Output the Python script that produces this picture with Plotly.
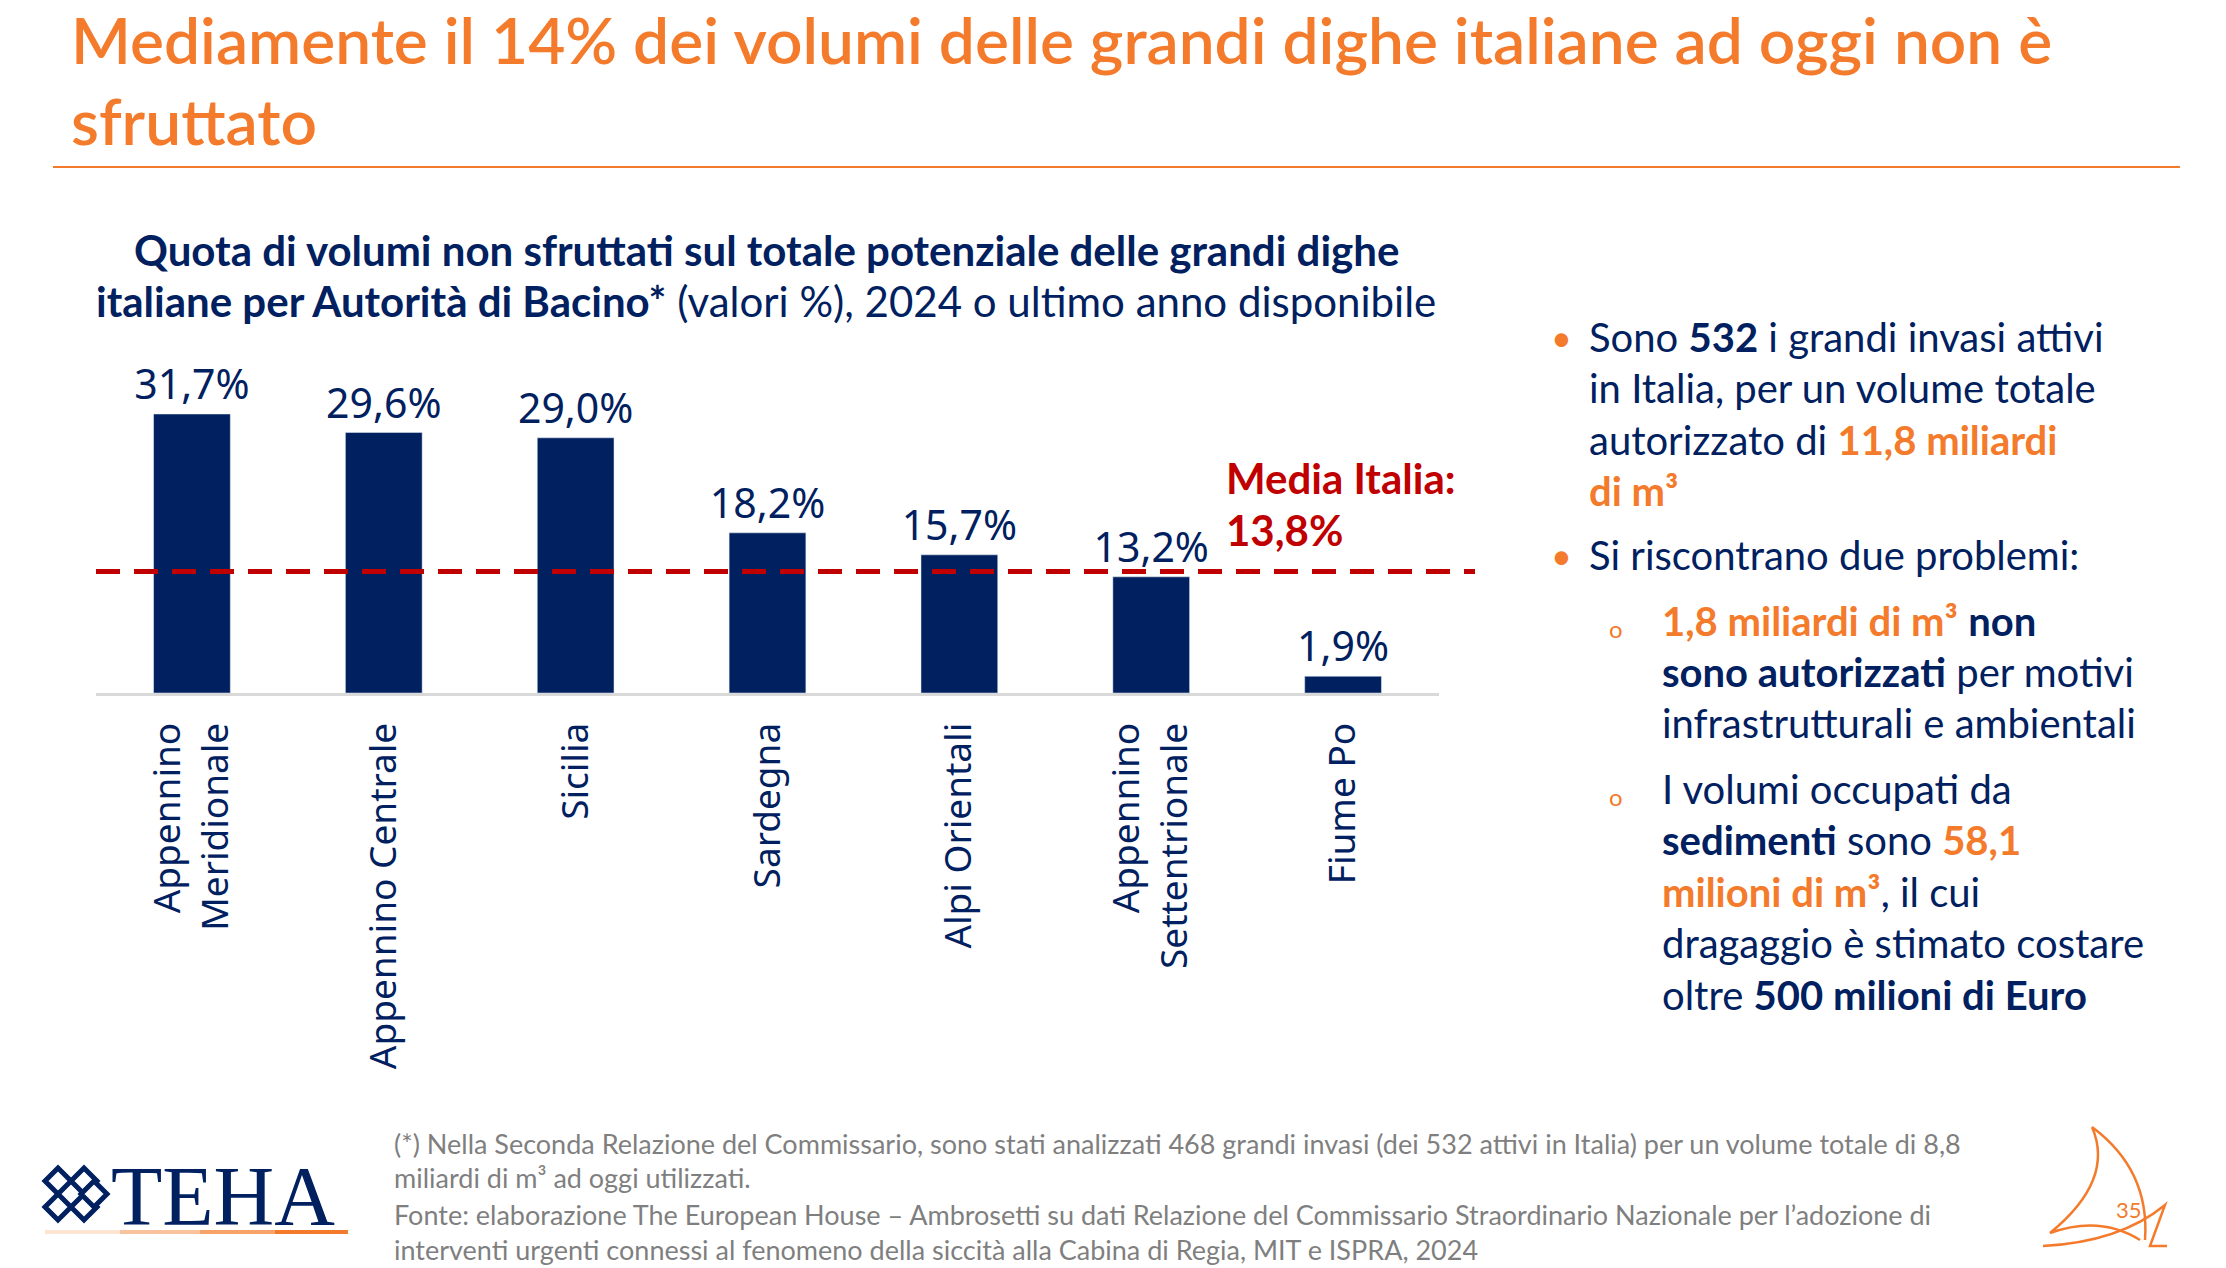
import plotly.graph_objects as go

# data
bacini = ["Appennino<br>Meridionale", "Appennino Centrale", "Sicilia", "Sardegna",
          "Alpi Orientali", "Appennino<br>Settentrionale", "Fiume Po"]
quota_non_sfruttata = [31.7, 29.6, 29.0, 18.2, 15.7, 13.2, 1.9]
media_italia = 13.8

NAVY = "#002060"
ORANGE = "#F37B2B"
RED = "#C00000"
GREY = "#7F7F7F"
FONT = "Lato, 'Open Sans', sans-serif"
NUMFONT = "'Noto Sans', sans-serif"

# page geometry (pixels) of the plot area
W_PAGE, H_PAGE = 2226, 1268
L, R, T, B = 96, 1439, 385, 693


def X(px):
    return (px - L) / (R - L)


def Y(py):
    return (B - py) / (B - T)


def path_px(s):
    out = []
    for tok in s.split():
        if "," in tok:
            a, b = tok.split(",")
            out.append(f"{X(float(a)):.5f},{Y(float(b)):.5f}")
        else:
            out.append(tok)
    return " ".join(out)


fig = go.Figure()
fig.add_trace(go.Bar(
    x=bacini, y=quota_non_sfruttata,
    marker_color=NAVY, width=0.4,
    texttemplate="%{y:.1f}%", textposition="outside", constraintext="none",
    textfont=dict(family=NUMFONT, size=41, color=NAVY),
    cliponaxis=False, hoverinfo="skip",
))

annotations = []


def txt(x, y, text, size, color=NAVY, family=FONT, xanchor="left", weight="normal"):
    annotations.append(dict(
        x=X(x), y=Y(y), xref="paper", yref="paper", text=text, showarrow=False,
        xanchor=xanchor, yanchor="middle", align="left", borderpad=0,
        font=dict(family=family, size=size, color=color, weight=weight)))


# slide title
txt(70, 40, "Mediamente il 14% dei volumi delle grandi dighe italiane ad oggi non è", 64, ORANGE,
    weight=600)
txt(70, 120, "sfruttato", 64, ORANGE, weight=600)

# chart title
txt(766, 250, "<b>Quota di volumi non sfruttati sul totale potenziale delle grandi dighe</b>",
    42, xanchor="center")
txt(766, 301, "<b>italiane per Autorità di Bacino*</b> (valori %), 2024 o ultimo anno disponibile",
    42, xanchor="center")

# average label
txt(1225, 478, "<b>Media Italia:</b>", 42, RED)
txt(1225, 530, "<b>" + f"{media_italia:.1f}".replace(".", ",") + "%</b>", 42, RED)

# right panel
O = lambda s: f"<span style='color:{ORANGE}'><b>{s}</b></span>"
side = [
    (337, "Sono <b>532</b> i grandi invasi attivi"),
    (388, "in Italia, per un volume totale"),
    (440, "autorizzato di " + O("11,8 miliardi")),
    (491, O("di m³")),
    (555, "Si riscontrano due problemi:"),
]
for y, s in side:
    txt(1588, y, s, 40)
txt(1550, 337, "•", 36, ORANGE)
txt(1550, 555, "•", 36, ORANGE)

sub = [
    (621, O("1,8 miliardi di m³") + " <b>non</b>"),
    (672, "<b>sono autorizzati</b> per motivi"),
    (723, "infrastrutturali e ambientali"),
    (789, "I volumi occupati da"),
    (840, "<b>sedimenti</b> sono " + O("58,1")),
    (892, O("milioni di m³") + ", il cui"),
    (943, "dragaggio è stimato costare"),
    (995, "oltre <b>500 milioni di Euro</b>"),
]
for y, s in sub:
    txt(1661, y, s, 40)
txt(1608, 628, "o", 24, ORANGE)
txt(1608, 796, "o", 24, ORANGE)

# footnotes
foot = [
    (1143, "(*) Nella Seconda Relazione del Commissario, sono stati analizzati 468 grandi invasi "
           "(dei 532 attivi in Italia) per un volume totale di 8,8"),
    (1177, "miliardi di m³ ad oggi utilizzati."),
    (1214, "Fonte: elaborazione The European House – Ambrosetti su dati Relazione del Commissario "
           "Straordinario Nazionale per l’adozione di"),
    (1249, "interventi urgenti connessi al fenomeno della siccità alla Cabina di Regia, MIT e ISPRA, 2024"),
]
for y, s in foot:
    txt(393, y, s, 27, GREY)

# logo text and page number
txt(110, 1196, "TEHA", 84, NAVY, "'Liberation Serif', serif")
txt(2129, 1209, "35", 22, ORANGE, xanchor="center")

shapes = [
    # average line
    dict(type="line", xref="paper", yref="y", x0=0, x1=X(1475),
         y0=media_italia, y1=media_italia,
         line=dict(color=RED, width=5, dash="24px,14px")),
    # title rule
    dict(type="line", xref="paper", yref="paper", x0=X(53), x1=X(2180), y0=Y(167), y1=Y(167),
         line=dict(color=ORANGE, width=2)),
    # sail
    dict(type="path", xref="paper", yref="paper", line=dict(color=ORANGE, width=2.5),
         path=path_px("M 2092,1127 Q 2115,1180 2050,1233 Q 2100,1215 2140,1240 "
                      "M 2092,1127 Q 2150,1170 2145,1240")),
    dict(type="path", xref="paper", yref="paper", line=dict(color=ORANGE, width=2.5),
         path=path_px("M 2043,1246 Q 2120,1242 2165,1205 L 2150,1246 L 2167,1246")),
]

# logo mark: interlocking diamonds
for cx, cy in [(58, 1181), (58, 1207), (84, 1181), (84, 1207), (94, 1194)]:
    r = 13
    shapes.append(dict(
        type="path", xref="paper", yref="paper", fillcolor="white",
        line=dict(color=NAVY, width=5),
        path=path_px(f"M {cx},{cy - r} L {cx + r},{cy} L {cx},{cy + r} L {cx - r},{cy} Z")))

# logo underline fading in
for op, (a, b) in zip([0.2, 0.45, 0.7, 1.0], [(45, 120), (120, 200), (200, 275), (275, 348)]):
    shapes.append(dict(type="line", xref="paper", yref="paper",
                       x0=X(a), x1=X(b), y0=Y(1232), y1=Y(1232),
                       line=dict(color=ORANGE, width=4), opacity=op))

fig.update_layout(
    width=W_PAGE, height=H_PAGE,
    margin=dict(l=L, r=W_PAGE - R, t=T, b=H_PAGE - B, pad=0),
    paper_bgcolor="white", plot_bgcolor="white",
    separators=",.",
    showlegend=False,
    bargap=0.6,
    xaxis=dict(tickangle=-90, ticks="", showline=True, linecolor="#D9D9D9", linewidth=3,
               tickfont=dict(family=NUMFONT, size=37, color=NAVY),
               ticklabelstandoff=12, fixedrange=True),
    yaxis=dict(range=[0, 35], visible=False, showgrid=False, fixedrange=True),
    annotations=annotations,
    shapes=shapes,
)

fig.write_html("out.html", config={"displayModeBar": False},
               post_script="document.body.style.margin='0';"
                           "document.body.style.overflow='hidden';")
